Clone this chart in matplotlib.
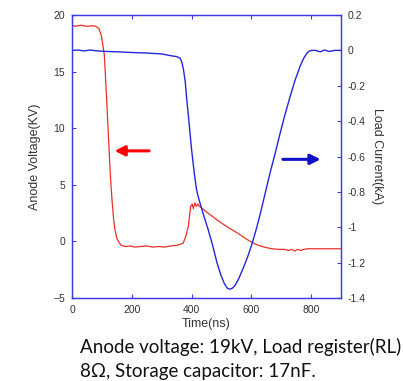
import matplotlib
matplotlib.use("Agg")
import matplotlib.pyplot as plt

# Anode voltage (kV) vs time (ns)
t_volt = [0, 10, 30, 50, 70, 80, 90, 98, 104, 108, 112, 116, 120, 124, 129, 134, 139, 144, 150,
          157, 165, 180, 195, 210, 230, 250, 270, 290, 310, 330, 350, 362, 372, 380, 389, 397,
          402, 406, 411, 416, 421, 426, 432, 450, 470, 490, 510, 530, 550, 570, 590, 610, 630,
          650, 670, 690, 710, 725, 735, 745, 755, 765, 775, 790, 820, 860, 900]
volt = [19.1, 19.0, 19.1, 19.0, 19.05, 19.0, 18.8, 18.2, 17.2, 16.5, 14.5, 12.5, 10.3, 8.1, 5.5,
        3.6, 2.0, 1.0, 0.3, -0.1, -0.35, -0.45, -0.4, -0.5, -0.45, -0.4, -0.5, -0.45, -0.5,
        -0.4, -0.35, -0.25, -0.15, 0.4, 1.3, 3.1, 3.3, 2.9, 3.4, 3.1, 3.3, 3.1, 3.0, 2.6, 2.2,
        1.8, 1.45, 1.1, 0.8, 0.45, 0.1, -0.2, -0.4, -0.55, -0.65, -0.7, -0.7, -0.8, -0.7, -0.85,
        -0.7, -0.8, -0.7, -0.65, -0.65, -0.65, -0.65]

# Load current (kA) vs time (ns)
t_curr = [0, 20, 40, 60, 80, 100, 150, 200, 250, 300, 330, 350, 362, 368, 373, 379, 384, 390,
          395, 400, 406, 411, 416, 421, 426, 440, 455, 470, 485, 498, 510, 520, 528, 536, 545,
          558, 573, 587, 601, 615, 629, 646, 663, 680, 696, 713, 730, 746, 763, 775, 786, 795,
          802, 815, 830, 845, 860, 880, 900]
curr = [0.0, 0.002, -0.003, 0.002, -0.002, -0.005, -0.008, -0.012, -0.015, -0.02, -0.03, -0.035,
        -0.045, -0.07, -0.11, -0.18, -0.28, -0.38, -0.47, -0.56, -0.65, -0.72, -0.78, -0.82,
        -0.85, -0.93, -1.01, -1.1, -1.2, -1.27, -1.32, -1.345, -1.35, -1.345, -1.33, -1.29,
        -1.23, -1.17, -1.10, -1.02, -0.93, -0.81, -0.69, -0.58, -0.47, -0.36, -0.26, -0.17,
        -0.09, -0.045, -0.015, -0.003, 0.0, 0.0, -0.008, 0.002, -0.006, 0.0, 0.0]

red = '#e8302a'
blue = '#2626d9'
spine_blue = '#3a3ae6'
tick_grey = '#333333'
sans = ['Liberation Sans', 'DejaVu Sans']

fig = plt.figure(figsize=(4.03, 3.81), dpi=100)
ax = fig.add_axes([0.1787, 0.2178, 0.6675, 0.7428])
ax2 = ax.twinx()

ax.plot(t_volt, volt, color=red, lw=0.9)
ax2.plot(t_curr, curr, color=blue, lw=1.0)

ax.set_xlim(0, 900)
ax.set_ylim(-5, 20)
ax2.set_ylim(-1.4, 0.2)
ax.set_xticks([0, 200, 400, 600, 800])
ax.set_yticks([-5, 0, 5, 10, 15, 20])
ax2.set_yticks([-1.4, -1.2, -1, -0.8, -0.6, -0.4, -0.2, 0, 0.2])
ax2.set_yticklabels(['-1.4', '-1.2', '-1', '-0.8', '-0.6', '-0.4', '-0.2', '0', '0.2'])

for a in (ax, ax2):
    for s in a.spines.values():
        s.set_color(spine_blue)
        s.set_linewidth(0.9)
ax.tick_params(axis='both', direction='in', length=3, width=0.8, color=spine_blue,
               labelsize=7.5, labelcolor=tick_grey, top=True, pad=5)
ax2.tick_params(axis='y', direction='in', length=3, width=0.8, color=spine_blue,
                labelsize=7.5, labelcolor=tick_grey, pad=5)
for lab in ax.get_xticklabels() + ax.get_yticklabels() + ax2.get_yticklabels():
    lab.set_family(sans)

ax.set_xlabel('Time(ns)', fontsize=9, color=tick_grey, labelpad=2, family=sans)
ax.set_ylabel('Anode Voltage(KV)', fontsize=9, color=tick_grey, labelpad=9, family=sans)
ax2.set_ylabel('Load Current(kA)', fontsize=9, color=tick_grey, rotation=-90, labelpad=12,
               family=sans)

# direction arrows
ax.annotate('', xy=(133, 8.0), xytext=(267, 8.0),
            arrowprops=dict(arrowstyle='-|>,head_length=0.6,head_width=0.3', color='red', lw=2.2))
ax2.annotate('', xy=(841, -0.616), xytext=(696, -0.616),
             arrowprops=dict(arrowstyle='-|>,head_length=0.6,head_width=0.3', color='#1010c8', lw=2.2))

fig.text(0.1985, 0.0735, 'Anode voltage: 19kV, Load register(RL)', fontsize=13.5,
         family=['Lato', 'DejaVu Sans'], color='#111111', va='baseline')
fig.text(0.1985, 0.0105, '8\u03a9, Storage capacitor: 17nF.', fontsize=13.5,
         family=['Lato', 'DejaVu Sans'], color='#111111', va='baseline')

fig.savefig('out.png', dpi=100)
